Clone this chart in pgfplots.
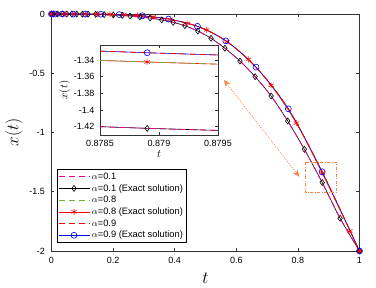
\documentclass[border=0pt]{standalone}
\usepackage[no-math]{fontspec}
\setmainfont{Liberation Sans}
\usepackage{pgfplots}
\usepackage{pgfplotstable}
\pgfplotsset{compat=1.18}
\usetikzlibrary{arrows.meta}
\definecolor{olivegreen}{rgb}{0.47,0.67,0.19}
\definecolor{orng}{RGB}{255,128,64}

\pgfplotstableread{
t y
0 0
0.006 0
0.020 -0.00001
0.035 -0.00004
0.050 -0.000125
0.066 -0.00029
0.082 -0.00055
0.100 -0.001
0.119 -0.00169
0.1435 -0.00296
0.171 -0.005
0.2006 -0.00807
0.230 -0.01217
0.255 -0.01658
0.287 -0.02364
0.320 -0.03375
0.358 -0.0496
0.395 -0.0703
0.433 -0.0990
0.475 -0.1436
0.518 -0.205
0.563 -0.289
0.612 -0.397
0.661 -0.529
0.713 -0.692
0.767 -0.903
0.821 -1.142
0.8789 -1.422
0.937 -1.724
1.000 -2.000
}\blackdata

\pgfplotstableread{
t y
0 0
0.02 0
0.045 -0.00003
0.075 -0.0001
0.11 -0.0004
0.15 -0.0013
0.19 -0.003
0.235 -0.0066
0.28 -0.0127
0.33 -0.0246
0.385 -0.0452
0.443 -0.0792
0.504 -0.1345
0.57 -0.233
0.639 -0.384
0.713 -0.602
0.795 -0.921
0.8789 -1.3424
0.969 -1.830
1 -2
}\reddata

\pgfplotstableread{
t y
0 0
0.012 0
0.035 -0.00001
0.07 -0.0001
0.11 -0.0004
0.16 -0.0016
0.22 -0.0051
0.295 -0.0154
0.38 -0.0428
0.474 -0.1044
0.566 -0.227
0.664 -0.448
0.769 -0.800
0.8789 -1.3313
1 -2
}\bluedata

\pgfplotstableread{
t yb yr yc
0.8785 -1.4200 -1.3405 -1.3293
0.8789 -1.4220 -1.3424 -1.3313
0.8795 -1.4245 -1.3450 -1.3340
}\insetdata

\pgfplotsset{
  mystyle/.style={
    scale only axis, tick align=inside, major tick length=3pt,
    axis line style={black!80, line width=0.5pt}, every tick/.style={black!80, line width=0.5pt},
    ticklabel style={font=\fontsize{9}{10}\selectfont},
  },
  dashA/.style={dash pattern=on 6pt off 4pt, line width=0.8pt},
}

\begin{document}
\begin{tikzpicture}
\path[use as bounding box] (0,0) rectangle (376pt,288pt);
\begin{axis}[mystyle,
  at={(51.5pt,37pt)}, anchor=south west, width=308pt, height=237pt,
  xmin=0, xmax=1, ymin=-2, ymax=0, clip=false,
  xtick={0,0.2,0.4,0.6,0.8,1}, xticklabels={0,0.2,0.4,0.6,0.8,1},
  ytick={-2,-1.5,-1,-0.5,0}, yticklabels={-2,-1.5,-1,-0.5,0},
  xticklabel style={yshift=-3pt}, yticklabel style={xshift=-3pt},
  xlabel={$t$}, ylabel={$x(t)$},
  label style={font=\fontsize{16}{18}\selectfont},
  xlabel style={yshift=-2pt},
  legend style={at={(0.0169,0.3447)}, anchor=north west, font=\fontsize{9.3}{10}\selectfont,
    draw=black, inner sep=1.2pt, row sep=-0.4pt, cells={anchor=west}},
  legend image code/.code={\draw[mark repeat=2,mark phase=2,#1] plot coordinates {(0pt,0pt) (15.5pt,0pt) (31pt,0pt)};},
]
\addlegendimage{magenta, dashA}
\addlegendentry{$\alpha$=0.1}
\addlegendimage{black, line width=0.6pt, mark=diamond, mark size=3pt, mark options={solid, fill=white}}
\addlegendentry{$\alpha$=0.1 (Exact solution)}
\addlegendimage{olivegreen, dashA}
\addlegendentry{$\alpha$=0.8}
\addlegendimage{red, line width=0.6pt, mark=asterisk, mark size=3pt, mark options={solid}}
\addlegendentry{$\alpha$=0.8 (Exact solution)}
\addlegendimage{red, dashA}
\addlegendentry{$\alpha$=0.9}
\addlegendimage{blue, line width=0.6pt, mark=o, mark size=3pt, mark options={solid}}
\addlegendentry{$\alpha$=0.9 (Exact solution)}

\addplot[forget plot, black, line width=0.6pt, smooth, mark=diamond, mark size=3pt, mark options={solid}] table[x=t,y=y] {\blackdata};
\addplot[forget plot, magenta, dashA, smooth] table[x=t,y=y] {\blackdata};
\addplot[forget plot, red, line width=0.6pt, smooth, mark=asterisk, mark size=3pt, mark options={solid}] table[x=t,y=y] {\reddata};
\addplot[forget plot, olivegreen, dashA, smooth] table[x=t,y=y] {\reddata};
\addplot[forget plot, blue, line width=0.6pt, smooth, mark=o, mark size=3pt, mark options={solid}] table[x=t,y=y] {\bluedata};
\addplot[forget plot, red, dashA, smooth] table[x=t,y=y] {\bluedata};

\draw[orng, line width=0.6pt, dash pattern=on 3pt off 1.5pt on 1pt off 1.5pt] (axis cs:0.825,-1.251) rectangle (axis cs:0.926,-1.505);
\draw[orng, line width=0.6pt, dash pattern=on 1.2pt off 1.2pt, {Stealth[length=7pt,width=6pt]}-{Stealth[length=7pt,width=6pt]}] (axis cs:0.56,-0.557) -- (axis cs:0.8045,-1.373);
\end{axis}

\begin{axis}[mystyle,
  at={(100pt,153pt)}, anchor=south west, width=118pt, height=90pt,
  xmin=0.8785, xmax=0.8795, ymin=-1.43, ymax=-1.322,
  axis background/.style={fill=white},
  xtick={0.8785,0.879,0.8795}, xticklabels={0.8785,0.879,0.8795},
  ytick={-1.42,-1.4,-1.38,-1.36,-1.34}, yticklabels={-1.42,-1.4,-1.38,-1.36,-1.34},
  xticklabel style={yshift=-2pt}, yticklabel style={xshift=-2pt},
  xlabel={$t$}, ylabel={$x(t)$},
  label style={font=\fontsize{11}{12}\selectfont},
  xlabel style={yshift=3pt}, ylabel style={yshift=-3pt},
]
\addplot[black, line width=0.6pt, mark=diamond, mark size=3pt, mark options={solid}, mark indices={2}] table[x=t,y=yb] {\insetdata};
\addplot[magenta, dashA] table[x=t,y=yb] {\insetdata};
\addplot[red, line width=0.6pt, mark=asterisk, mark size=3pt, mark options={solid}, mark indices={2}] table[x=t,y=yr] {\insetdata};
\addplot[olivegreen, dashA] table[x=t,y=yr] {\insetdata};
\addplot[blue, line width=0.6pt, mark=o, mark size=3pt, mark options={solid}, mark indices={2}] table[x=t,y=yc] {\insetdata};
\addplot[red, dashA] table[x=t,y=yc] {\insetdata};
\end{axis}
\end{tikzpicture}
\end{document}
